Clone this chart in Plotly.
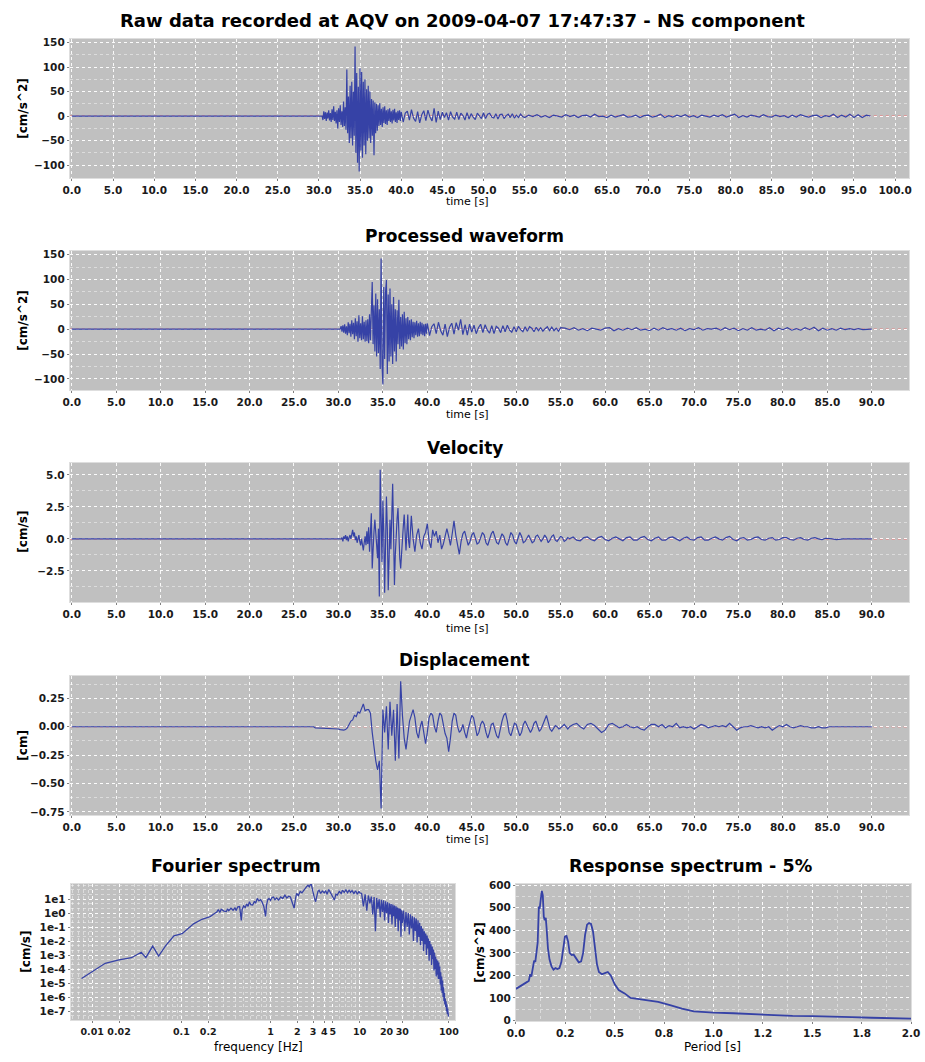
import plotly.graph_objects as go

# ------------------------------------------------------------------ data
# Raw acceleration record (cm/s^2): flat lead-in, then segments sampled at (start, step)
raw_lead_t = [0.0, 30.3]
raw_lead_v = [0, 0]
raw_seg_start = [30.4, 40.25, 55.5]
raw_seg_step = [0.1, 0.25, 0.5]
raw_strong = [0, -8, 10, -6, 8, -10, 7, -5, 12, -9,
              6, -12, 14, -8, 20, -10, 9, -15, 12, -25,
              16, -12, 22, -18, 10, -22, 30, -20, 18, -28,
              95, -35, 40, -55, 62, -45, 70, -60, 50, -40,
              142, -75, 88, -95, 60, -113, 97, -70, 90, -85,
              70, -60, 75, -78, 55, -50, 62, -45, 50, -55,
              35, -40, 32, -80, 28, -35, 25, -30, 22, -20,
              26, -18, 15, -22, 18, -14, 20, -16, 12, -18,
              14, -10, 16, -12, 10, -15, 13, -9, 15, -12,
              8, -14, 11, -8, 12, -10, 9]
raw_mid = [-12, 6, 10, -8, 13, -4, -11, 9, -14, 3,
           11, -9, 12, -2, -10, 16, -13, 10, -7, 8,
           -3, 7, -8, 9, -2, -6, 8, -7, 6, 1,
           -8, 7, -6, 5, -2, -7, 6, 1, -5, 7,
           -5, 4, 6, -2, -4, 5, -6, 3, 4, -5,
           1, 4, -3, 5, -4, 2, -3, 4, -1, -3]
raw_coda = [2, -1, 3, -2, 1, -3, 2, 0, -2, 3,
            -1, 2, -3, 1, 2, -2, 4, -1, 0, -3,
            2, -2, 1, 3, -2, -1, 2, -3, 1, 2,
            -2, 0, 4, -3, 1, -2, 2, -1, 3, -2,
            1, -3, 2, 0, -2, 2, -1, 3, -2, 1,
            4, -3, 1, -2, 2, 0, -2, 3, -1, -2,
            2, -1, 1, -3, 2, -2, 3, 0, -2, 1,
            2, -3, 1, -1, 4, -3, 2, -2, 4, -3,
            3, -3, 2, 0]

# Processed acceleration (cm/s^2)
proc_lead_t = [0.0, 30.1]
proc_lead_v = [0, 0]
proc_seg_start = [30.2, 40.25, 55.5]
proc_seg_step = [0.1, 0.25, 0.5]
proc_strong = [0, 6, -5, 8, -7, 10, -9, 6, -12, 14,
               -8, 11, -15, 18, -10, 13, -20, 22, -14, 16,
               -25, 28, -18, 12, -22, 26, -20, 15, -25, 18,
               -24, 20, -28, 30, -22, 35, 95, -30, 48, -45,
               72, -55, 60, -48, 40, -80, 142, -70, -111, 85,
               -60, 75, 99, -90, 70, -65, 82, -55, 50, -70,
               65, -45, 40, -65, 38, -30, 59, -40, 25, -35,
               30, -41, 35, -28, 22, -30, 25, -20, 18, -22,
               20, -16, 15, -18, 14, -12, 17, -15, 12, -14,
               15, -10, 13, -12, 10, -14, 11, -9, 12]
proc_mid = [-13, 5, 11, -9, 14, -3, -12, 10, -15, 4,
            12, -10, 13, -2, 20, -11, 9, -12, 10, -6,
            8, -9, 3, 10, -7, 9, -2, -8, 7, -9,
            6, 2, -7, 7, -5, 8, -2, -6, 5, -5,
            6, -1, -5, 5, -4, 5, 2, -5, 4, -3,
            3, -4, 1, 5, -3, 4, -3, 2, -4, 3]
proc_coda = [2, -1, 3, -2, 1, -3, 2, 0, -2, 2,
             3, -3, 1, -2, 2, -1, 3, -2, 0, -3,
             2, -2, 3, -1, 1, -2, 2, -3, 1, -1,
             3, -2, 1, 0, 2, -2, 3, -1, 2, -3,
             1, -2, 3, -2, 0, -2, 3, -3, 2, -1,
             3, -2, 1, -2, 3, -1, 4, -3, 2, -2,
             1, -2, 2, -1, 1, -1, 1, -1, 0, 0]

# Velocity (cm/s)
vel_lead_t = [0.0, 30.1]
vel_lead_v = [0.0, 0.0]
vel_seg_start = [30.2, 38.2, 56.4]
vel_seg_step = [0.1, 0.2, 0.4]
vel_strong = [0.0, 0.0, 0.1, -0.2, 0.2, 0.0, 0.3, -0.1, 0.2, -0.2,
              0.1, 0.3, 0.0, 0.4, 0.7, 0.2, 0.5, -0.1, 0.2, -0.3,
              0.1, 0.3, -0.2, -0.5, 0.0, -0.4, -0.9, -0.3, 0.2, -0.5,
              0.6, -0.4, 0.9, -1.0, 0.4, 2.0, -2.3, -0.5, 0.6, 1.5,
              0.2, -0.6, -1.5, 0.8, -4.5, 5.4, 1.2, -1.8, 3.0, 0.5,
              -4.2, -1.0, 3.3, 0.8, -4.0, -1.5, 1.5, -0.8, 1.2, 4.3,
              0.6, -3.6, -1.2, 0.9, 1.6, 2.4, 0.2, -1.5, -2.3, -0.8,
              0.6, 1.0, 1.9, 0.3, -0.9, 0.5, 1.9, -0.2, -0.7]
vel_mid = [1.8, 0.0, -1.0, 0.3, 0.8, -0.3, -0.8, 0.2, 0.5, 1.2,
           -0.2, -0.7, 0.7, 0.2, 0.6, -0.3, 0.3, -0.8, -0.4, 0.3,
           0.8, 0.2, -0.5, 0.4, 1.4, 0.3, -0.6, -1.2, -0.2, 0.4,
           0.6, 0.0, -0.5, -0.2, 0.3, 0.5, 0.1, -0.4, -0.3, 0.2,
           0.5, 0.3, -0.3, -0.5, -0.1, 0.4, 0.6, 0.2, -0.3, -0.4,
           0.0, 0.4, 0.2, -0.3, -0.5, 0.0, 0.5, 0.3, -0.2, -0.4,
           0.1, 0.5, 0.2, -0.3, -0.2, 0.1, 0.3, 0.0, -0.3, -0.2,
           0.2, 0.3, 0.0, -0.2, 0.0, 0.3, 0.1, -0.3, -0.1, 0.2,
           0.3, -0.1, -0.2, 0.0, 0.2, 0.1, -0.2, -0.1, 0.1, 0.0]
vel_coda = [0.15, -0.1, -0.15, 0.1, 0.15, -0.05, -0.15, 0.1, 0.2, -0.05,
            -0.15, 0.05, 0.15, 0.0, -0.15, 0.1, 0.15, -0.1, -0.1, 0.1,
            0.2, -0.05, -0.15, 0.05, 0.15, -0.1, -0.1, 0.1, 0.15, 0.0,
            -0.15, 0.05, 0.15, -0.05, -0.1, 0.1, 0.15, -0.1, -0.1, 0.05,
            0.15, 0.0, -0.1, 0.1, 0.2, -0.05, -0.15, 0.05, 0.1, -0.1,
            -0.05, 0.1, 0.15, -0.05, -0.1, 0.05, 0.1, -0.1, -0.05, 0.1,
            0.1, -0.05, -0.1, 0.05, 0.1, -0.05, -0.1, 0.05, 0.1, 0.0,
            -0.05, 0.05, 0.05, 0.0, -0.05, 0.0, 0.0, 0.0]
vel_tail_t = [90.0]
vel_tail_v = [0.0]

# Displacement (cm)
disp_lead_t = [0.0, 27.2, 27.4, 29.8]
disp_lead_v = [0.0, 0.0, -0.01, -0.015]
disp_seg_start = [30.0, 56.4]
disp_seg_step = [0.2, 0.4]
disp_strong = [-0.02, -0.025, -0.03, -0.03, -0.025, -0.01, 0.02, 0.05, 0.06, 0.1,
               0.09, 0.13, 0.12, 0.16, 0.2, 0.14, 0.15, 0.15, 0.12, -0.05,
               -0.18, -0.3, -0.38, -0.3, -0.72, 0.15, -0.05, 0.18, -0.2, 0.22,
               -0.08, 0.15, -0.3, 0.2, -0.28, 0.4, 0.1, -0.1, -0.2, -0.05,
               0.05, 0.1, 0.15, 0.08, -0.05, -0.1, 0.0, 0.05, -0.05, -0.15,
               -0.05, 0.08, 0.12, 0.1, 0.0, -0.05, 0.05, 0.12, 0.1, 0.0,
               -0.06, -0.1, -0.22, -0.1, 0.05, 0.12, 0.1, 0.0, -0.05, -0.03,
               0.02, -0.05, -0.1, -0.02, 0.05, 0.1, 0.08, -0.02, -0.08, -0.05,
               0.02, 0.05, 0.02, -0.05, -0.1, -0.05, 0.02, 0.03, -0.02, -0.08,
               -0.1, -0.02, 0.05, 0.1, 0.12, 0.05, -0.05, -0.08, -0.02, 0.03,
               0.02, -0.03, -0.08, -0.05, 0.02, 0.05, 0.02, -0.02, -0.05, -0.02,
               0.03, 0.05, 0.0, -0.04, -0.02, 0.03, 0.06, 0.1, 0.05, -0.02,
               -0.04, -0.02, 0.01, 0.0, -0.02, -0.01, 0.01, 0.02, 0.0, -0.02, 0.0]
disp_coda = [0.02, 0.03, 0.0, -0.02, 0.02, 0.03, 0.01, -0.02, -0.05, -0.03,
             0.02, 0.03, 0.01, -0.01, 0.0, 0.02, 0.0, -0.01, 0.0, -0.02,
             -0.03, 0.0, 0.02, 0.02, 0.0, 0.02, -0.01, 0.01, 0.0, 0.03,
             -0.01, 0.0, -0.01, 0.0, -0.02, 0.0, 0.02, 0.01, -0.01, 0.0,
             0.01, 0.0, 0.01, 0.0, 0.03, 0.0, -0.03, -0.01, 0.0, 0.0,
             0.01, 0.0, -0.01, 0.0, -0.01, 0.0, -0.03, -0.01, 0.01, 0.0,
             0.02, 0.0, -0.01, 0.0, 0.01, 0.0, 0.0, -0.01, -0.01, 0.0,
             -0.01, -0.01, 0.0, 0.0, 0.0, 0.0, 0.0, 0.0]
disp_tail_t = [90.0]
disp_tail_v = [0.0]

# Fourier amplitude spectrum (cm/s) vs frequency (Hz)
fs_freq = [0.0076, 0.0104, 0.014, 0.02, 0.0276, 0.0355, 0.04, 0.0477, 0.0556, 0.0668,
           0.0826, 0.102, 0.119, 0.137, 0.17, 0.21, 0.24,
           0.25, 0.26, 0.27, 0.28, 0.30, 0.32, 0.33, 0.34, 0.36, 0.38,
           0.40, 0.41, 0.43, 0.45, 0.46, 0.47, 0.48, 0.50, 0.52, 0.54,
           0.56, 0.58, 0.60, 0.63, 0.66, 0.68, 0.71, 0.74, 0.77, 0.80,
           0.84, 0.86, 0.88, 0.90, 0.93, 0.96, 1.0, 1.04, 1.08, 1.12,
           1.17, 1.23, 1.3, 1.37, 1.45, 1.52, 1.6, 1.67, 1.75, 1.84,
           1.9, 1.96, 2.05, 2.15, 2.25, 2.35, 2.45, 2.55, 2.63, 2.72,
           2.8, 2.86, 2.93, 3.0, 3.1, 3.2, 3.3, 3.4, 3.5, 3.65,
           3.8, 4.0, 4.15, 4.3, 4.5, 4.7, 4.9, 5.2, 5.4, 5.6,
           5.9, 6.2, 6.4, 6.7, 7.0, 7.3, 7.6, 7.9, 8.2, 8.6,
           9.0, 9.4, 9.8, 10.0,
           10.5, 11, 11.5, 12, 12.5, 13, 13.5, 14, 14.5, 15,
           15.5, 16, 16.5, 17, 17.5, 18, 18.5, 19, 19.5, 20,
           20.5, 21, 21.5, 22, 22.5, 23, 23.5, 24, 24.5, 25,
           25.5, 26, 26.5, 27, 27.5, 28, 28.5, 29, 29.5, 30,
           31, 32, 33, 34, 35, 36, 37, 38, 39, 40,
           41, 42, 43, 44, 45, 46, 47, 48, 49, 50,
           51, 52, 53, 54, 55, 56, 57, 58, 59, 60,
           61, 62, 63, 64, 65, 66, 67, 68, 69, 70,
           71, 72, 73, 74, 75, 76, 77, 78, 79, 80,
           81, 82, 83, 84, 85, 86, 87, 88, 89, 90,
           91, 92, 93, 94, 95, 96, 97, 98, 99]
fs_amp = [2.1e-5, 7.4e-5, 2.6e-4, 4.5e-4, 6.5e-4, 1.6e-3, 6.5e-4, 4.4e-3, 8.5e-4, 4.8e-3,
          2.4e-2, 3.4e-2, 8.5e-2, 0.17, 0.36, 0.56, 1.0,
          1.2, 1.8, 1.1, 1.9, 1.4, 1.3, 2.0, 1.5, 2.2, 1.6,
          2.4, 1.5, 2.8, 2.9, 1.2, 0.3, 1.8, 3.2, 2.5, 4.5,
          3.0, 6.5, 4.0, 3.8, 7.0, 5.0, 11, 7.5, 9.0, 6.5,
          3.0, 1.0, 0.57, 3.5, 9.0, 11, 8.0, 13, 14, 9.0,
          12, 8.5, 14, 11, 19, 12, 16, 14, 6.0, 2.2,
          10, 25, 18, 35, 28, 43, 60, 80, 97, 75,
          110, 115, 60, 25, 12, 6.5, 20, 35, 43, 25,
          38, 28, 40, 22, 48, 30, 18, 8.5, 22, 19,
          35, 25, 43, 30, 45, 28, 43, 30, 40, 25,
          39, 22, 35, 28,
          25, 3, 22, 1.5, 18, 5, 15, 0.8, 14, 0.05,
          12, 2, 10, 0.5, 9, 1.2, 8, 0.3, 7, 1.0,
          6, 0.2, 5, 0.8, 4.5, 0.15, 4, 0.6, 3.5, 0.1,
          3, 0.4, 2.5, 0.05, 2.2, 0.3, 2, 0.02, 1.6, 0.2,
          1.5, 0.05, 1.2, 0.1, 1.0, 0.03, 0.8, 0.08, 0.6, 0.01,
          0.5, 0.05, 0.4, 0.008, 0.3, 0.02, 0.2, 0.005, 0.12, 0.01,
          0.08, 0.002, 0.05, 0.006, 0.035, 0.001, 0.025, 0.003, 0.015, 4e-4,
          0.01, 1e-3, 6e-3, 2e-4, 4e-3, 5e-4, 2.5e-3, 8e-5, 1.5e-3, 1e-4,
          8e-4, 3e-5, 5e-4, 4e-5, 4e-4, 2e-5, 3e-4, 2e-5, 1.5e-4, 8e-6,
          6e-5, 3e-6, 3e-5, 2e-6, 1.5e-5, 1e-6, 5e-6, 5e-7, 2e-6, 3e-7,
          8e-7, 2e-7, 5e-7, 1e-7, 3e-7, 6e-8, 1.5e-7, 7e-8, 4e-8]

# Response spectrum, 5% damping (cm/s^2) vs period (s)
rs_period = [0.0, 0.02, 0.04, 0.055, 0.065, 0.072, 0.078, 0.085, 0.092, 0.098,
             0.104, 0.11, 0.116, 0.12, 0.126, 0.131, 0.136, 0.141, 0.146, 0.151,
             0.156, 0.162, 0.17, 0.18, 0.19, 0.2, 0.21, 0.22, 0.23, 0.24,
             0.248, 0.256, 0.264, 0.272, 0.282, 0.292, 0.305, 0.318, 0.33, 0.34,
             0.35, 0.36, 0.37, 0.38, 0.39, 0.4, 0.41, 0.42, 0.435, 0.45,
             0.465, 0.48, 0.5, 0.52, 0.55, 0.58, 0.62, 0.67, 0.72, 0.78,
             0.84, 0.9, 0.95, 1.0, 1.1, 1.2, 1.3, 1.4, 1.5, 1.6,
             1.7, 1.8, 1.9, 2.0]
rs_accel = [140, 152, 165, 170, 175, 205, 195, 230, 265, 260,
            320, 345, 505, 495, 540, 575, 555, 460, 445, 455,
            400, 320, 270, 240, 225, 232, 228, 232, 260, 330,
            372, 375, 350, 300, 290, 292, 272, 258, 262, 300,
            380, 425, 432, 428, 395, 320, 250, 215, 205, 210,
            215, 200, 160, 135, 120, 100, 95, 90, 82, 68,
            52, 40, 36, 35, 32, 27, 22, 20, 19, 18,
            15, 12, 10, 8]

# Axis tick labels
time_ticks_raw = [0, 5, 10, 15, 20, 25, 30, 35, 40, 45, 50, 55, 60, 65, 70, 75, 80, 85, 90, 95, 100]
time_ticks = [0, 5, 10, 15, 20, 25, 30, 35, 40, 45, 50, 55, 60, 65, 70, 75, 80, 85, 90]
acc_ticks = [-100, -50, 0, 50, 100, 150]
vel_ticks = [-2.5, 0.0, 2.5, 5.0]
disp_ticks = [-0.75, -0.5, -0.25, 0.0, 0.25]
fs_xticks = [0.01, 0.02, 0.1, 0.2, 1, 2, 3, 4, 5, 10, 20, 30, 100]
fs_xtext = ["0.01", "0.02", "0.1", "0.2", "1", "2", "3", "4", "5", "10", "20", "30", "100"]
fs_yticks = [1e1, 1e0, 1e-1, 1e-2, 1e-3, 1e-4, 1e-5, 1e-6, 1e-7]
fs_ytext = ["1e1", "1e0", "1e-1", "1e-2", "1e-3", "1e-4", "1e-5", "1e-6", "1e-7"]
rs_xticks = [0.0, 0.25, 0.5, 0.75, 1.0, 1.25, 1.5, 1.75, 2.0]
rs_xtext = ["0.0", "0.2", "0.5", "0.8", "1.0", "1.2", "1.5", "1.8", "2.0"]
rs_yticks = [0, 100, 200, 300, 400, 500, 600]


# ------------------------------------------------------------------ helpers
def build(lead_t, lead_v, starts, steps, segs, tail_t=(), tail_v=()):
    t = list(lead_t)
    v = list(lead_v)
    for t0, dt, seg in zip(starts, steps, segs):
        t += [round(t0 + dt * i, 4) for i in range(len(seg))]
        v += list(seg)
    t += list(tail_t)
    v += list(tail_v)
    return t, v


W, H = 925, 1062
BLUE = "#3642a6"
BG = "#c0c0c0"
GRID = "rgba(255,255,255,0.9)"
MINOR = "rgba(255,255,255,0.45)"
FONT = "DejaVu Sans"


def xd(left, right):
    return [left / W, right / W]


def yd(top, bottom):
    return [1 - bottom / H, 1 - top / H]


tickfont = dict(family=FONT, size=10.5, color="#1a1a1a", weight="bold")
common = dict(showgrid=True, gridcolor=GRID, griddash="dot", gridwidth=1,
              zeroline=False, showline=True, linecolor="#dedede", linewidth=1,
              mirror=True, ticks="outside", ticklen=2, tickcolor="#808080",
              tickfont=tickfont, tickangle=0, ticklabeloverflow="allow")

fig = go.Figure()

series = [
    build(raw_lead_t, raw_lead_v, raw_seg_start, raw_seg_step, [raw_strong, raw_mid, raw_coda]),
    build(proc_lead_t, proc_lead_v, proc_seg_start, proc_seg_step, [proc_strong, proc_mid, proc_coda]),
    build(vel_lead_t, vel_lead_v, vel_seg_start, vel_seg_step, [vel_strong, vel_mid, vel_coda],
          vel_tail_t, vel_tail_v),
    build(disp_lead_t, disp_lead_v, disp_seg_start, disp_seg_step, [disp_strong, disp_coda],
          disp_tail_t, disp_tail_v),
]
for i, (t, v) in enumerate(series):
    ax = "" if i == 0 else str(i + 1)
    fig.add_trace(go.Scatter(x=t, y=v, mode="lines", line=dict(color=BLUE, width=1.2),
                             xaxis="x" + ax, yaxis="y" + ax, showlegend=False, hoverinfo="skip"))

fig.add_trace(go.Scatter(x=fs_freq, y=fs_amp, mode="lines", line=dict(color=BLUE, width=1.3),
                         xaxis="x5", yaxis="y5", showlegend=False, hoverinfo="skip"))
fig.add_trace(go.Scatter(x=rs_period, y=rs_accel, mode="lines", line=dict(color=BLUE, width=1.8),
                         xaxis="x6", yaxis="y6", showlegend=False, hoverinfo="skip"))

# panel boxes in pixels: (left, right, top, bottom)
boxes = [(62, 918, 34, 175), (62, 918, 248, 389), (62, 918, 462, 603), (62, 918, 677, 818),
         (63, 455, 887, 1025), (517, 920, 887, 1026)]

lay = {}
time_cfg = [
    (time_ticks_raw, [-0.25, 101.7], acc_ticks, [-127, 158], None, 25),
    (time_ticks, [-0.22, 94.2], acc_ticks, [-123, 158], None, 25),
    (time_ticks, [-0.22, 94.2], vel_ticks, [-4.95, 5.95], ".1f", 1.25),
    (time_ticks, [-0.22, 94.2], disp_ticks, [-0.78, 0.45], ".2f", 0.125),
]
for i, (xt, xr, yt, yr, yfmt, ymin) in enumerate(time_cfg):
    l, r, tp, bt = boxes[i]
    k = "" if i == 0 else str(i + 1)
    lay["xaxis" + k] = dict(common, domain=xd(l, r), anchor="y" + k, range=xr,
                            tickvals=xt, tickformat=".1f")
    ydict = dict(common, domain=yd(tp, bt), anchor="x" + k, range=yr, tickvals=yt,
                 minor=dict(dtick=ymin, showgrid=True, gridcolor=MINOR, griddash="dot", ticks=""))
    if yfmt:
        ydict["tickformat"] = yfmt
    lay["yaxis" + k] = ydict

l, r, tp, bt = boxes[4]
lay["xaxis5"] = dict(common, domain=xd(l, r), anchor="y5", type="log", range=[-2.24, 2.07],
                     tickvals=fs_xticks, ticktext=fs_xtext,
                     tickfont=dict(family=FONT, size=9.5, color="#1a1a1a", weight="bold"),
                     minor=dict(dtick="D1", showgrid=True, gridcolor=MINOR, griddash="dot", ticks=""))
lay["yaxis5"] = dict(common, domain=yd(tp, bt), anchor="x5", type="log", range=[-7.66, 2.1],
                     tickvals=fs_yticks, ticktext=fs_ytext,
                     minor=dict(dtick="D2", showgrid=True, gridcolor=MINOR, griddash="dot", ticks=""))
l, r, tp, bt = boxes[5]
lay["xaxis6"] = dict(common, domain=xd(l, r), anchor="y6", range=[0, 2.0],
                     tickvals=rs_xticks, ticktext=rs_xtext,
                     minor=dict(dtick=0.125, showgrid=True, gridcolor=MINOR, griddash="dot", ticks=""))
lay["yaxis6"] = dict(common, domain=yd(tp, bt), anchor="x6", range=[-4, 607],
                     tickvals=rs_yticks,
                     minor=dict(dtick=50, showgrid=True, gridcolor=MINOR, griddash="dot", ticks=""))

# red dotted zero reference lines in time panels
shapes = []
for i in range(4):
    k = "" if i == 0 else str(i + 1)
    shapes.append(dict(type="line", xref="x" + k + " domain", x0=0, x1=1, yref="y" + k, y0=0, y1=0,
                       line=dict(color="#ff5a5a", width=1, dash="dot"), layer="below"))

ann = []


def text(x, y, s, size, bold=False, angle=0):
    ann.append(dict(x=x / W, y=1 - y / H, xref="paper", yref="paper", text=s, showarrow=False,
                    textangle=angle, xanchor="center", yanchor="middle",
                    font=dict(family=FONT, size=size, color="black", weight="bold" if bold else "normal")))


text(463, 16, "Raw data recorded at AQV on 2009-04-07 17:47:37 - NS component", 18, True)
text(465, 233, "Processed waveform", 17, True)
text(465, 447, "Velocity", 17, True)
text(465, 661, "Displacement", 17, True)
text(231, 869, "Fourier spectrum", 17.5, True)
text(695, 869, "Response spectrum - 5%", 17.5, True)

for yy in (198, 413, 629, 842):
    text(468, yy, "time [s]", 11)
text(254, 1052, "frequency [Hz]", 12)
text(717, 1052, "Period [s]", 12)

text(14, 104, "[cm/s^2]", 12, True, -90)
text(14, 318, "[cm/s^2]", 12, True, -90)
text(14, 532, "[cm/s]", 12, True, -90)
text(14, 747, "[cm]", 12, True, -90)
text(17, 956, "[cm/s]", 12, True, -90)
text(480, 956, "[cm/s^2]", 12, True, -90)

fig.update_layout(width=W, height=H, margin=dict(l=0, r=0, t=0, b=0),
                  paper_bgcolor="white", plot_bgcolor=BG, showlegend=False,
                  shapes=shapes, annotations=ann, **lay)

fig.write_html("out.html", config={"displayModeBar": False},
               post_script="document.body.style.margin='0px';document.body.style.overflow='hidden';")
